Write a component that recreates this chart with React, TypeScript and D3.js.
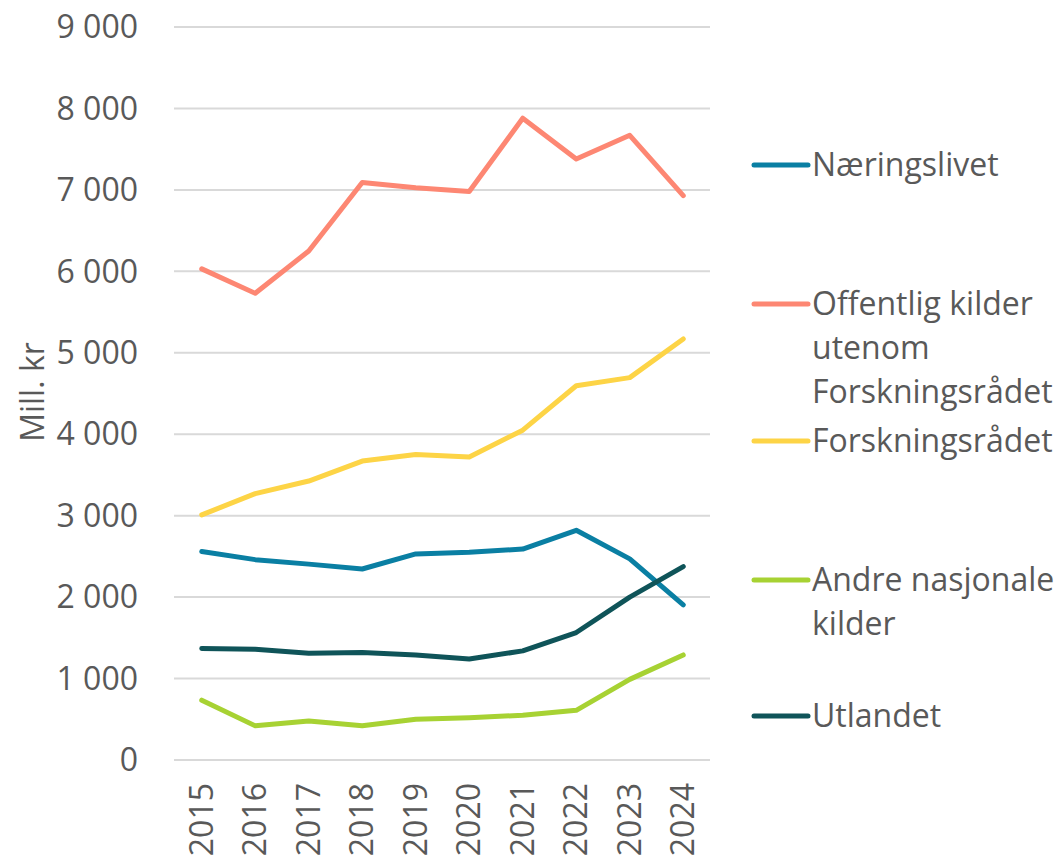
import React from 'react';
import * as d3 from 'd3';

// Funding sources for R&D, mill. kr
const years = ['2015', '2016', '2017', '2018', '2019', '2020', '2021', '2022', '2023', '2024'];
const naeringslivet = [2560, 2460, 2405, 2345, 2530, 2550, 2590, 2820, 2470, 1905];
const offentlig = [6030, 5730, 6250, 7090, 7025, 6980, 7880, 7380, 7670, 6930];
const forskningsradet = [3010, 3270, 3425, 3670, 3750, 3720, 4050, 4595, 4695, 5170];
const andreNasjonale = [735, 420, 480, 420, 500, 520, 550, 610, 990, 1290];
const utlandet = [1370, 1360, 1310, 1320, 1290, 1240, 1340, 1565, 2000, 2375];
const yTicks = [0, 1000, 2000, 3000, 4000, 5000, 6000, 7000, 8000, 9000];

const series = [
  { name: ['Næringslivet'], values: naeringslivet, color: '#0a7fa3' },
  { name: ['Offentlig kilder', 'utenom', 'Forskningsrådet'], values: offentlig, color: '#fd8773' },
  { name: ['Forskningsrådet'], values: forskningsradet, color: '#fdd446' },
  { name: ['Andre nasjonale', 'kilder'], values: andreNasjonale, color: '#a7d233' },
  { name: ['Utlandet'], values: utlandet, color: '#0f5459' },
];

const WIDTH = 1063;
const HEIGHT = 858;
const FONT = '"Open Sans", sans-serif';
const TEXT = '#595959';

export default function App() {
  const x = d3.scaleBand<string>().domain(years).range([175, 710]).padding(0);
  const y = d3.scaleLinear().domain([0, 9000]).range([760, 27]);
  const cx = (yr: string) => (x(yr) as number) + x.bandwidth() / 2;

  const line = d3
    .line<number>()
    .x((_, i) => cx(years[i]))
    .y((d) => y(d));

  const fmt = (v: number) => (v >= 1000 ? `${Math.floor(v / 1000)} ${String(v % 1000).padStart(3, '0')}` : String(v));

  // legend rows: first-line centre of each entry
  const legendY = [165, 304, 441, 580, 716];
  const lineGap = 44;

  return (
    <svg
      width={WIDTH}
      height={HEIGHT}
      style={{ position: 'absolute', left: 0, top: 0, display: 'block', background: '#fff' }}
      fontFamily={FONT}
    >
      {/* grid */}
      {yTicks.map((t) => (
        <line key={t} x1={174} x2={710} y1={y(t)} y2={y(t)} stroke="#d9d9d9" strokeWidth={2} />
      ))}

      {/* y tick labels */}
      {yTicks.map((t) => (
        <text key={t} x={138} y={y(t)} dy="0.35em" textAnchor="end" fontSize={32} fill={TEXT}>
          {fmt(t)}
        </text>
      ))}

      {/* y axis title */}
      <text
        transform={`translate(44, 392) rotate(-90)`}
        textAnchor="middle"
        fontSize={32}
        fill={TEXT}
      >
        Mill. kr
      </text>

      {/* x tick labels */}
      {years.map((yr) => (
        <text
          key={yr}
          transform={`translate(${cx(yr)}, 783) rotate(-90)`}
          dy="0.35em"
          textAnchor="end"
          fontSize={32}
          fill={TEXT}
        >
          {yr}
        </text>
      ))}

      {/* series lines */}
      {series.map((s) => (
        <path
          key={s.name.join(' ')}
          d={line(s.values) ?? ''}
          fill="none"
          stroke={s.color}
          strokeWidth={5}
          strokeLinejoin="round"
          strokeLinecap="round"
        />
      ))}

      {/* legend */}
      {series.map((s, i) => (
        <g key={s.name.join(' ')}>
          <line
            x1={754}
            x2={808}
            y1={legendY[i]}
            y2={legendY[i]}
            stroke={s.color}
            strokeWidth={5}
            strokeLinecap="round"
          />
          {s.name.map((part, j) => (
            <text key={j} x={812} y={legendY[i] + j * lineGap} dy="0.35em" fontSize={32} fill={TEXT}>
              {part}
            </text>
          ))}
        </g>
      ))}
    </svg>
  );
}
